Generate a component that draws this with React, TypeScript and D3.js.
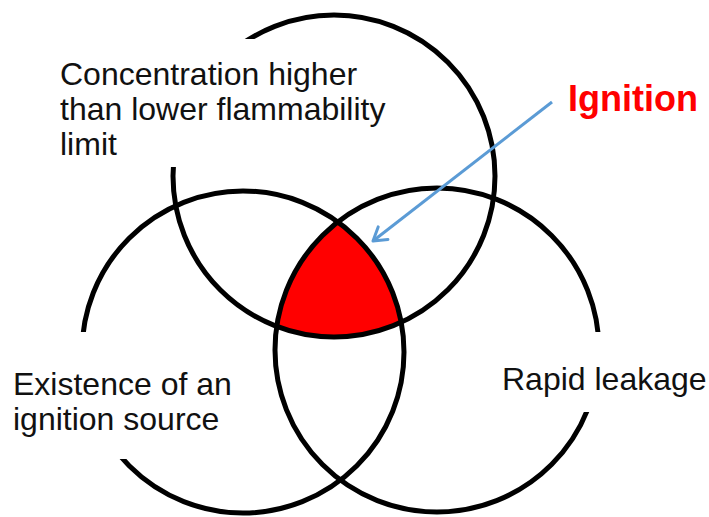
import React from "react";
import * as d3 from "d3";

const W = 709;
const H = 517;

// Circle definitions (centre x, centre y in px, radius)
const circleNames = ["flammability", "ignitionSource", "leakage"];
const circleCx = [334, 243, 437];
const circleCy = [176, 352, 350];
const circleR = [161, 161, 162];

// Label boxes that mask the circle outlines
const boxX = [55, 0, 427];
const boxY = [39, 332, 412 - 80];
const boxW = [343, 265, 282];
const boxH = [128, 127, 80];

// Labels
const labelLines = [
  ["Concentration higher", "than lower flammability", "limit"],
  ["Existence of an", "ignition source"],
  ["Rapid leakage"],
];
const labelX = [60, 13, 502];
const labelY0 = [85, 395, 390];
const lineStep = 35;

const ignitionLabel = "Ignition";
const arrowFrom: [number, number] = [552, 102];
const arrowTo: [number, number] = [373, 241];

export default function App() {
  const x = d3.scaleIdentity().domain([0, W]);
  const y = d3.scaleIdentity().domain([0, H]);

  const [x0, y0] = arrowFrom;
  const [x1, y1] = arrowTo;
  const ang = Math.atan2(y0 - y1, x0 - x1);
  const headLen = 15;
  const spread = (32 * Math.PI) / 180;
  const head = d3.path();
  head.moveTo(x1 + headLen * Math.cos(ang + spread), y1 + headLen * Math.sin(ang + spread));
  head.lineTo(x1, y1);
  head.lineTo(x1 + headLen * Math.cos(ang - spread), y1 + headLen * Math.sin(ang - spread));

  const font = "'Liberation Sans', Arial, sans-serif";

  return (
    <svg
      width={W}
      height={H}
      style={{ position: "absolute", left: 0, top: 0, background: "#fff" }}
    >
      <defs>
        <clipPath id="clipLeft">
          <circle cx={x(circleCx[1])} cy={y(circleCy[1])} r={circleR[1]} />
        </clipPath>
        <clipPath id="clipRight">
          <circle cx={x(circleCx[2])} cy={y(circleCy[2])} r={circleR[2]} />
        </clipPath>
      </defs>
      <rect x={0} y={0} width={W} height={H} fill="#fff" />
      {/* triple intersection */}
      <g clipPath="url(#clipLeft)">
        <g clipPath="url(#clipRight)">
          <circle cx={x(circleCx[0])} cy={y(circleCy[0])} r={circleR[0]} fill="#ff0000" />
        </g>
      </g>
      {/* circle outlines */}
      {circleNames.map((n, i) => (
        <circle
          key={n}
          cx={x(circleCx[i])}
          cy={y(circleCy[i])}
          r={circleR[i]}
          fill="none"
          stroke="#000"
          strokeWidth={5}
        />
      ))}
      {/* label boxes */}
      {boxX.map((bx, i) => (
        <rect key={i} x={bx} y={boxY[i]} width={boxW[i]} height={boxH[i]} fill="#fff" />
      ))}
      {/* labels */}
      {labelLines.map((lines, i) => (
        <text key={i} fontFamily={font} fontSize={32} fill="#111">
          {lines.map((t, j) => (
            <tspan key={j} x={labelX[i]} y={labelY0[i] + j * lineStep}>
              {t}
            </tspan>
          ))}
        </text>
      ))}
      {/* arrow */}
      <line x1={x0} y1={y0} x2={x1} y2={y1} stroke="#5b9bd5" strokeWidth={3} />
      <path d={head.toString()} fill="none" stroke="#5b9bd5" strokeWidth={3} strokeLinecap="round" strokeLinejoin="round" />
      <text x={568} y={111} fontFamily={font} fontSize={36} fontWeight="bold" fill="#ff0000">
        {ignitionLabel}
      </text>
    </svg>
  );
}
